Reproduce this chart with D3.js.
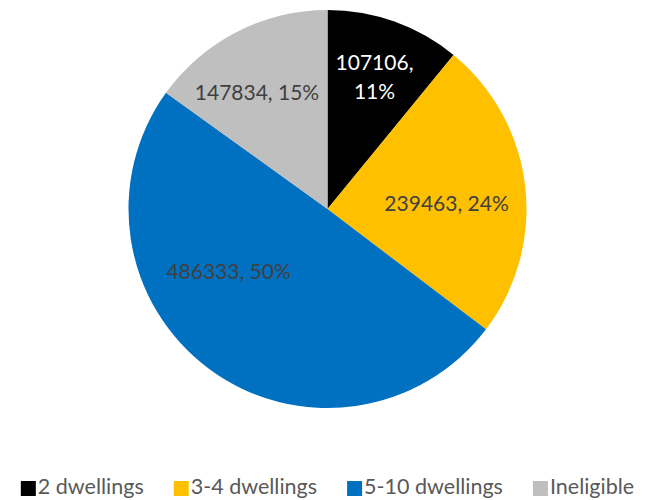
<!DOCTYPE html>
<html>
<head>
<meta charset="utf-8">
<script src="https://cdn.jsdelivr.net/npm/d3@7"></script>
<style>
  html, body { margin: 0; padding: 0; background: #fff; }
  svg { display: block; font-family: Lato, "Open Sans", sans-serif; }
</style>
</head>
<body>
<svg id="chart" width="649" height="500"></svg>
<script>
// Dwellings by type
const categories = ["2 dwellings", "3-4 dwellings", "5-10 dwellings", "Ineligible"];
const values = [107106, 239463, 486333, 147834];
const colors = ["#000000", "#FFC000", "#0070C0", "#BFBFBF"];

// Label placement: angle (degrees clockwise from 12 o'clock) and radius as a share of the pie radius
const labelAngles = [19.6, 87.4, 237.7, 328.8];
const labelRadii = [0.704, 0.599, 0.588, 0.684];
const labelColors = ["#FFFFFF", "#404040", "#404040", "#404040"];

const width = 649, height = 500;
const cx = 327.5, cy = 209, radius = 199;
const labelSize = 21, legendSize = 21.5;

const svg = d3.select("#chart");
const total = d3.sum(values);
const data = categories.map((c, i) => ({ cat: c, value: values[i], i }));

const pie = d3.pie().value(d => d.value).sort(null);
const arc = d3.arc().innerRadius(0).outerRadius(radius);

const g = svg.append("g").attr("transform", `translate(${cx},${cy})`);
const arcs = pie(data);

g.selectAll("path.slice")
  .data(arcs)
  .join("path")
  .attr("class", "slice")
  .attr("d", arc)
  .attr("fill", d => colors[d.data.i]);

const fmtPct = v => Math.round(v / total * 100) + "%";

arcs.forEach(d => {
  const i = d.data.i;
  const a = labelAngles[i] * Math.PI / 180;
  const r = labelRadii[i] * radius;
  const x = Math.sin(a) * r, y = -Math.cos(a) * r;
  const t = g.append("text")
    .attr("text-anchor", "middle")
    .attr("fill", labelColors[i])
    .attr("font-size", labelSize);
  if (i === 0) {
    // narrow slice: value and share on two lines
    const half = 14.5, mid = 0.35 * labelSize;
    t.append("tspan").attr("x", x).attr("y", y - half + mid).text(d.data.value + ",");
    t.append("tspan").attr("x", x).attr("y", y + half + mid).text(fmtPct(d.data.value));
  } else {
    t.attr("x", x).attr("y", y).attr("dy", "0.35em")
      .text(d.data.value + ", " + fmtPct(d.data.value));
  }
});

// Legend along the bottom, centred
const legend = svg.append("g");
const sw = 15, gapSw = 2, gapItem = 30;
let xPos = 0;
categories.forEach((c, i) => {
  const item = legend.append("g").attr("transform", `translate(${xPos},0)`);
  item.append("rect").attr("x", 0).attr("y", -13).attr("width", sw).attr("height", sw)
    .attr("fill", colors[i]);
  const txt = item.append("text").attr("x", sw + gapSw).attr("y", 0)
    .attr("font-size", legendSize).attr("fill", "#595959").text(c);
  xPos += sw + gapSw + txt.node().getComputedTextLength() + gapItem;
});
const legendWidth = xPos - gapItem;
legend.attr("transform", `translate(${(width - legendWidth) / 2 + 3},${494})`);
</script>
</body>
</html>
